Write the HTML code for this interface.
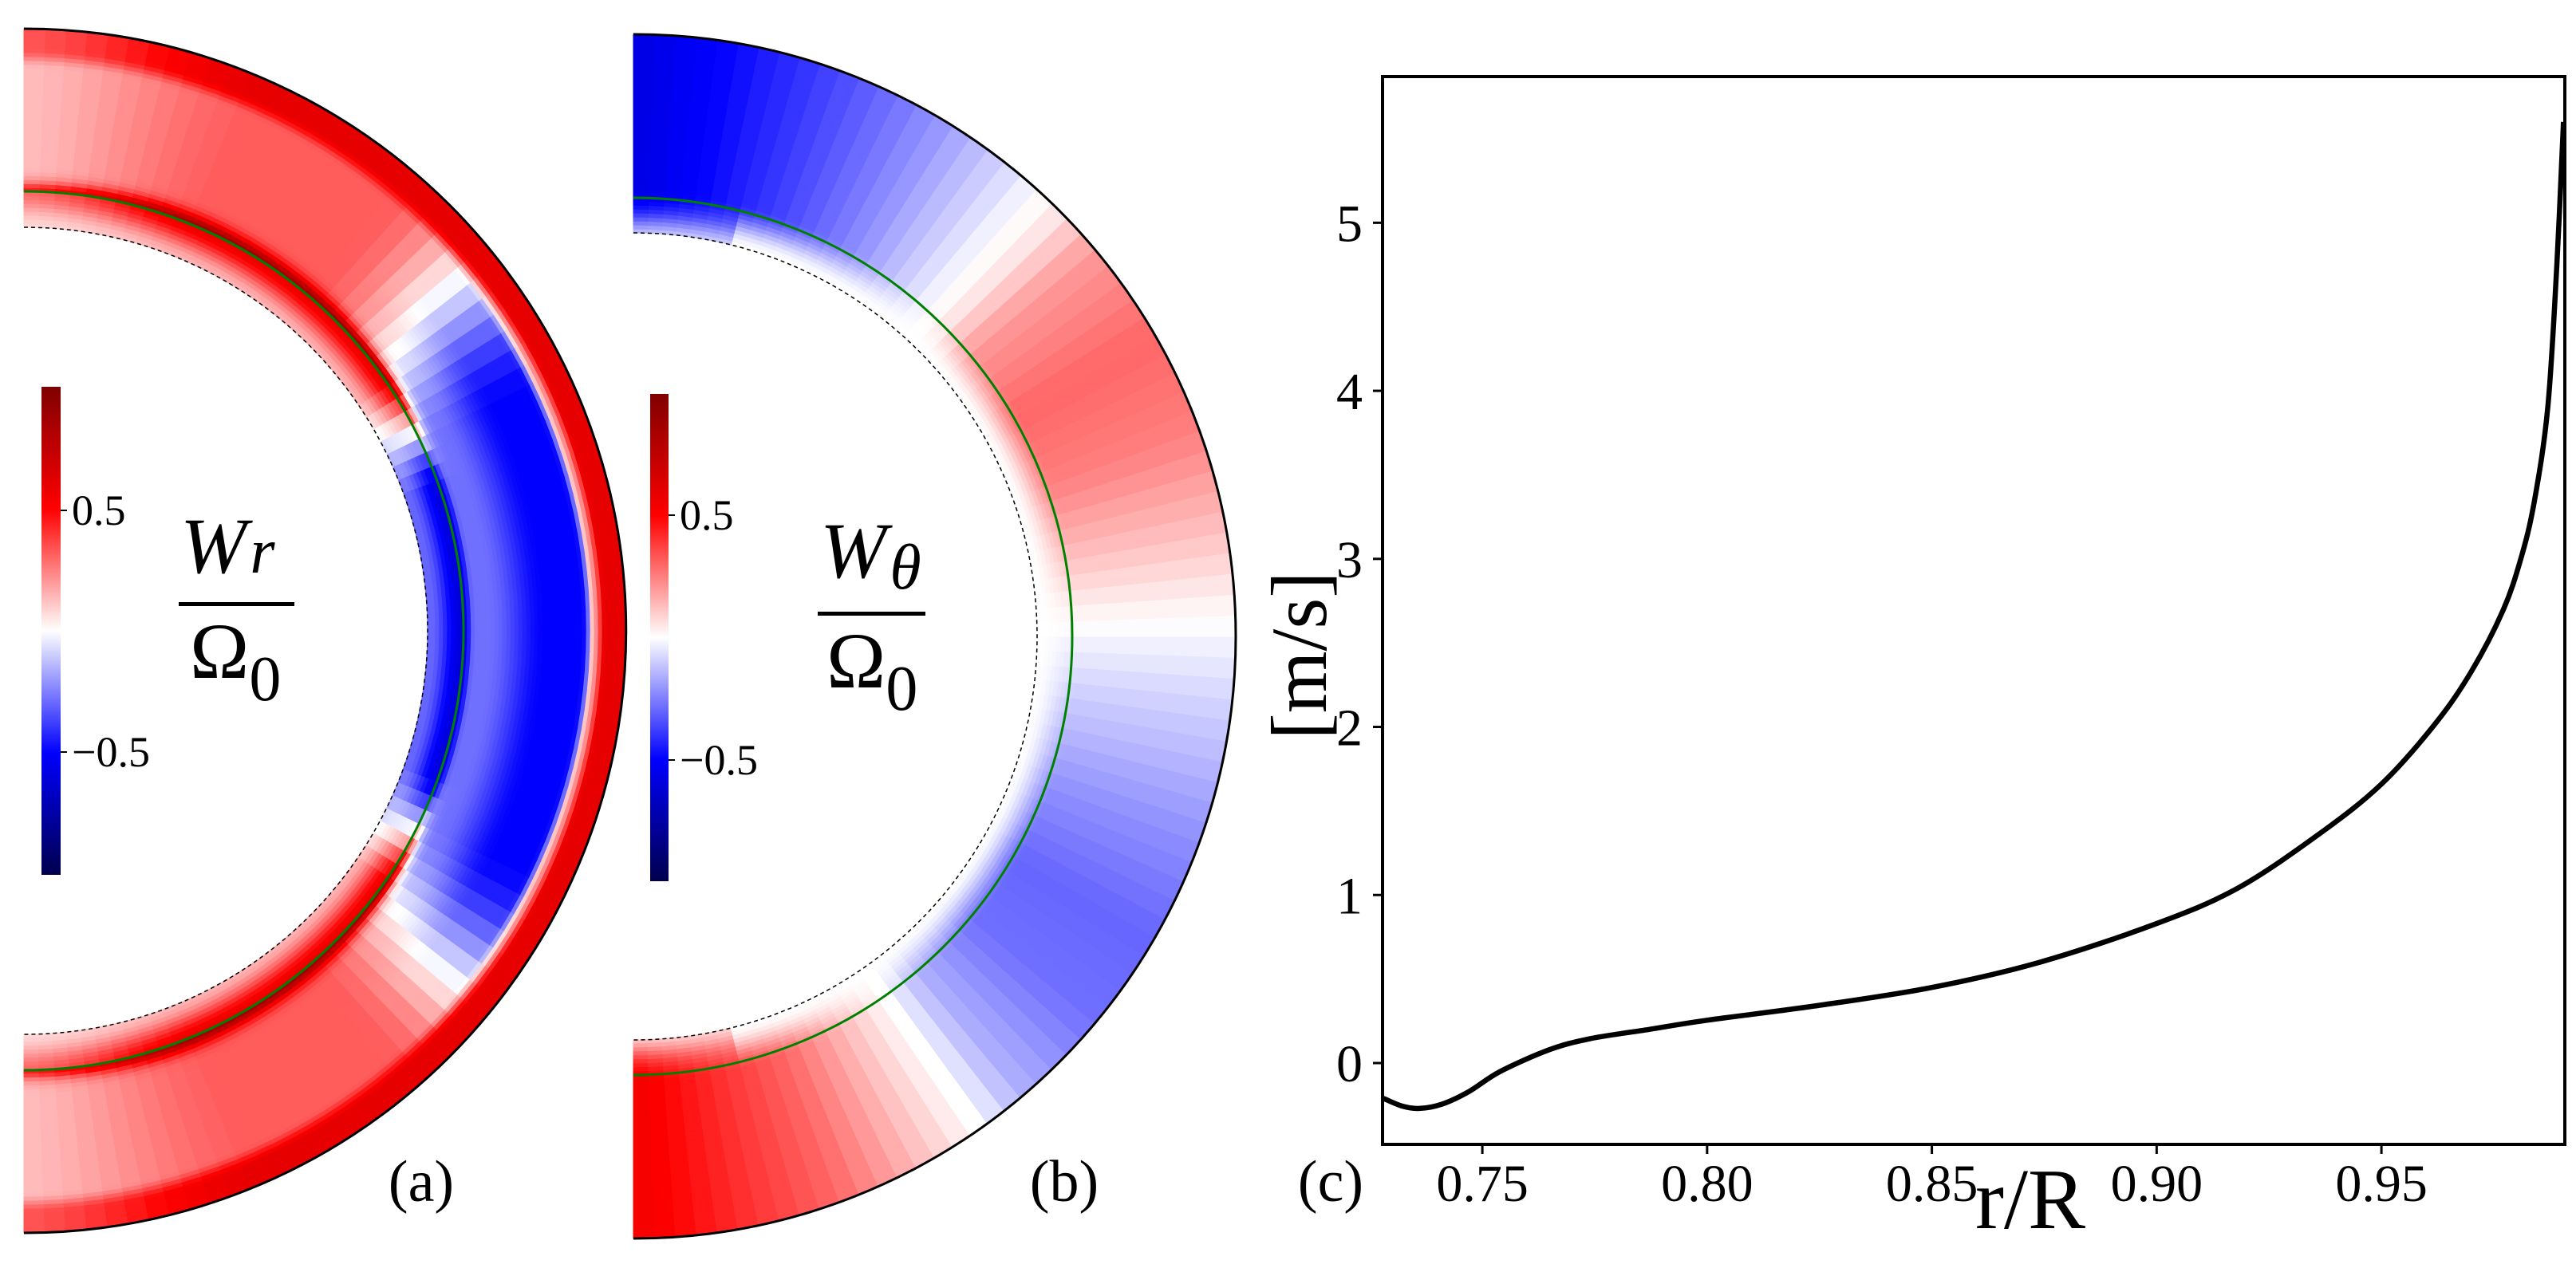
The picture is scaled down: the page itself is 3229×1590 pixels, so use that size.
<!DOCTYPE html>
<html><head><meta charset="utf-8">
<style>
html,body{margin:0;padding:0;background:#fff;}
svg{display:block;}
text{font-family:"Liberation Serif",serif;fill:#000;}
</style></head>
<body>
<svg id="fig" width="3229" height="1590" viewBox="0 0 3229 1590" xmlns="http://www.w3.org/2000/svg">
<defs>
<linearGradient id="seis" x1="0" y1="1" x2="0" y2="0">
<stop offset="0" stop-color="#00004d"/><stop offset="0.25" stop-color="#0000ff"/>
<stop offset="0.5" stop-color="#ffffff"/><stop offset="0.75" stop-color="#ff0000"/>
<stop offset="1" stop-color="#800000"/>
</linearGradient>
</defs>
<g id="panelA"></g>
<g id="panelB"></g>

<g>
<rect x="52" y="485" width="24" height="612" fill="url(#seis)"/>
<line x1="76" y1="640" x2="84" y2="640" stroke="#000" stroke-width="2"/>
<line x1="76" y1="943" x2="84" y2="943" stroke="#000" stroke-width="2"/>
<text x="90" y="658" font-size="54">0.5</text>
<text x="90" y="961" font-size="54">−0.5</text>
</g>
<g>
<text x="226" y="718" font-size="100" font-style="italic">W<tspan font-size="80" dx="4">r</tspan></text>
<rect x="224" y="755" width="145" height="5" fill="#000"/>
<text x="238" y="850" font-size="100">Ω<tspan font-size="80" dy="28">0</tspan></text>
</g>
<text x="528" y="1506" font-size="74" text-anchor="middle">(a)</text>

<g>
<rect x="815" y="494" width="23" height="611" fill="url(#seis)"/>
<line x1="838" y1="646" x2="846" y2="646" stroke="#000" stroke-width="2"/>
<line x1="838" y1="953" x2="846" y2="953" stroke="#000" stroke-width="2"/>
<text x="852" y="664" font-size="54">0.5</text>
<text x="852" y="971" font-size="54">−0.5</text>
</g>
<g>
<text x="1028" y="724" font-size="100" font-style="italic">W<tspan font-size="80" dx="4" dy="14">θ</tspan></text>
<rect x="1025" y="767" width="135" height="5" fill="#000"/>
<text x="1036" y="862" font-size="100">Ω<tspan font-size="80" dy="28">0</tspan></text>
</g>
<text x="1334" y="1506" font-size="74" text-anchor="middle">(b)</text>

<g id="panelC"></g>
<text x="1668" y="1506" font-size="74" text-anchor="middle">(c)</text>
</svg>
<script>
// ---- panel c data ----
const rValues = [0.728,0.732,0.736,0.741,0.747,0.754,0.765,0.774,0.787,0.800,0.824,0.850,0.874,0.900,0.918,0.936,0.950,0.962,0.970,0.977,0.981,0.984,0.987,0.989,0.9905];
const speedValues = [-0.21,-0.255,-0.27,-0.245,-0.17,-0.05,0.08,0.145,0.2,0.255,0.34,0.45,0.6,0.83,1.04,1.36,1.66,2.02,2.33,2.69,3.0,3.34,3.9,4.74,5.6];
const xTickValues = [0.75,0.80,0.85,0.90,0.95];
const xTickLabels = ["0.75","0.80","0.85","0.90","0.95"];
const yTickValues = [0,1,2,3,4,5];
const yTickLabels = ["0","1","2","3","4","5"];
// ---- panel b latitude profile (deg, value) ----
const latDeg = [90,80,70,60,50,45,40,30,20,10,0,-10,-20,-30,-40,-50,-55,-60,-70,-80,-90];
const wthetaProfile = [-0.58,-0.48,-0.36,-0.22,-0.05,0.05,0.2,0.3,0.25,0.12,-0.02,-0.12,-0.22,-0.3,-0.28,-0.15,0,0.1,0.3,0.42,0.55];

const NS="http://www.w3.org/2000/svg";
function mk(tag,attrs,parent){const e=document.createElementNS(NS,tag);for(const k in attrs)e.setAttribute(k,attrs[k]);parent.appendChild(e);return e;}

const X0=1733,X1=3215,Y0=96,Y1=1435;
const xmin=0.7278,xmax=0.9908,ymin=-0.484,ymax=5.87;
const sx=v=>X0+(v-xmin)/(xmax-xmin)*(X1-X0);
const sy=v=>Y1-(v-ymin)/(ymax-ymin)*(Y1-Y0);
const pc=document.getElementById('panelC');
const frame=mk('rect',{x:X0,y:Y0,width:X1-X0,height:Y1-Y0,fill:'none',stroke:'#000','stroke-width':4},pc);


xTickValues.forEach((v,i)=>{
  const t=mk('line',{x1:sx(v),y1:Y1,x2:sx(v),y2:Y1+12,stroke:'#000','stroke-width':3},pc);
  
  
  const l=mk('text',{x:sx(v),y:1506,'font-size':66,'text-anchor':'middle'},pc);
  l.textContent=xTickLabels[i];
  
  
});
yTickValues.forEach((v,i)=>{
  const t=mk('line',{x1:X0-12,y1:sy(v),x2:X0,y2:sy(v),stroke:'#000','stroke-width':3},pc);
  
  
  const l=mk('text',{x:1708,y:sy(v)+23,'font-size':66,'text-anchor':'end'},pc);
  l.textContent=yTickLabels[i];
  
  
});
// smooth path through data points (Catmull-Rom)
const P=rValues.map((r,i)=>[sx(r),sy(speedValues[i])]);
let d=`M${P[0][0].toFixed(1)},${P[0][1].toFixed(1)}`;
for(let i=0;i<P.length-1;i++){
  const p0=P[Math.max(0,i-1)],p1=P[i],p2=P[i+1],p3=P[Math.min(P.length-1,i+2)];
  const c1=[p1[0]+(p2[0]-p0[0])/6,p1[1]+(p2[1]-p0[1])/6];
  const c2=[p2[0]-(p3[0]-p1[0])/6,p2[1]-(p3[1]-p1[1])/6];
  d+=` C${c1[0].toFixed(1)},${c1[1].toFixed(1)} ${c2[0].toFixed(1)},${c2[1].toFixed(1)} ${p2[0].toFixed(1)},${p2[1].toFixed(1)}`;
}
const line=mk('path',{d:d,fill:'none',stroke:'#000','stroke-width':6.5,'stroke-linejoin':'round'},pc);


const xl=mk('text',{x:2545,y:1540,'font-size':108,'text-anchor':'middle'},pc);
xl.textContent='r/R';


const yl=mk('text',{x:0,y:0,'font-size':100,'text-anchor':'middle',transform:'translate(1662,822) rotate(-90)'},pc);
yl.textContent='[m/s]';



function seis(v){v=Math.max(-1,Math.min(1,v));let r,g,b;
 if(v<-0.5){const f=(v+1)/0.5;r=0;g=0;b=0.3+0.7*f;}
 else if(v<0){const f=(v+0.5)/0.5;r=f;g=f;b=1;}
 else if(v<0.5){const f=v/0.5;r=1;g=1-f;b=1-f;}
 else{const f=(v-0.5)/0.5;r=1-0.5*f;g=0;b=0;}
 return `rgb(${Math.round(r*255)},${Math.round(g*255)},${Math.round(b*255)})`;}
function ss(a,b,x){const t=Math.max(0,Math.min(1,(x-a)/(b-a)));return t*t*(3-2*t);}
function interpLat(phi){for(let i=0;i<latDeg.length-1;i++){if(phi<=latDeg[i]&&phi>=latDeg[i+1]){const f=(latDeg[i]-phi)/(latDeg[i]-latDeg[i+1]);return wthetaProfile[i]+f*(wthetaProfile[i+1]-wthetaProfile[i]);}}return 0;}

function fieldA(t,phi){const a=Math.abs(phi);
 const polar=ss(65,92,a);
 const w=1-ss(25,50,a);      // equatorial weight in middle layer
 const w2=1-ss(18,36,a);     // equatorial weight in inner layer
 // middle layer value
 const blue=-0.28-0.22*ss(0.3,0.6,t);
 const red=0.32*(1-0.6*polar);
 let mid=w*blue+(1-w)*red;
 // inner layer value
 const innerRed=(0.15+0.45*ss(0.0,0.2,t))*(1-0.5*polar);
 const innerBlue=-0.3-0.3*ss(0.02,0.18,t);
 let inner=w2*innerBlue+(1-w2)*innerRed;
 // strong red just outside green line at high latitudes
 const nearG=Math.exp(-Math.pow((t-0.2)/0.05,2))*(1-w2)*0.3*(1-0.5*polar);
 let base = t<0.2 ? inner : mid + nearG*(t<0.35?1:0);
 if(t>=0.18&&t<0.24){const f=ss(0.18,0.24,t);base=(1-f)*inner+f*mid+nearG;}
 // white ring before outer shell near equator
 const ringW=Math.exp(-Math.pow((t-0.835)/0.025,2))*w;
 base=base*(1-ringW);
 // outer red shell
 const k=ss(0.8,0.9,t);
 const outer=0.6*(1-0.45*polar);
 return (1-k)*base+k*outer;}
function fieldB(t,phi){let v=interpLat(phi);
 const a=Math.abs(phi);
 const fade=ss(0.0,0.22,t);
 return v*(a>75?Math.max(fade,0.5*ss(-0.1,0.12,t)+0.5*fade):fade);}

function annulus(gid,cx,cy,rIn,rOut,rGreen,fn){
 const g=document.getElementById(gid);
 const NA=90,NR=50;
 for(let i=0;i<NA;i++){
  const p0=-90+180*i/NA,p1=-90+180*(i+1)/NA,pm=(p0+p1)/2;
  for(let j=0;j<NR;j++){
   const t0=j/NR,t1=(j+1)/NR,tm=(t0+t1)/2;
   const r0=rIn+(rOut-rIn)*t0,r1=rIn+(rOut-rIn)*t1;
   const c=seis(fn(tm,pm));
   const a0=p0*Math.PI/180,a1=p1*Math.PI/180;
   const Q=[[cx+r0*Math.cos(a0),cy-r0*Math.sin(a0)],[cx+r1*Math.cos(a0),cy-r1*Math.sin(a0)],[cx+r1*Math.cos(a1),cy-r1*Math.sin(a1)],[cx+r0*Math.cos(a1),cy-r0*Math.sin(a1)]];
   const cell=mk('polygon',{points:Q.map(q=>q[0].toFixed(1)+','+q[1].toFixed(1)).join(' '),fill:c,stroke:c,'stroke-width':1},g);
   
   
  }}
 const arc=(r)=>`M${cx},${cy-r} A${r},${r} 0 0 1 ${cx},${cy+r}`;
 const o=mk('path',{d:arc(rOut),fill:'none',stroke:'#000','stroke-width':3},g);
 
 
 const dd=mk('path',{d:arc(rIn),fill:'none',stroke:'#000','stroke-width':1.5,'stroke-dasharray':'5,4'},g);
 
 
 const gr=mk('path',{d:arc(rGreen),fill:'none',stroke:'#008000','stroke-width':3},g);
 
 
}
annulus('panelA',30,791,506,755,551,fieldA);
annulus('panelB',794,798,506,755,550,fieldB);
</script>
</body></html>
